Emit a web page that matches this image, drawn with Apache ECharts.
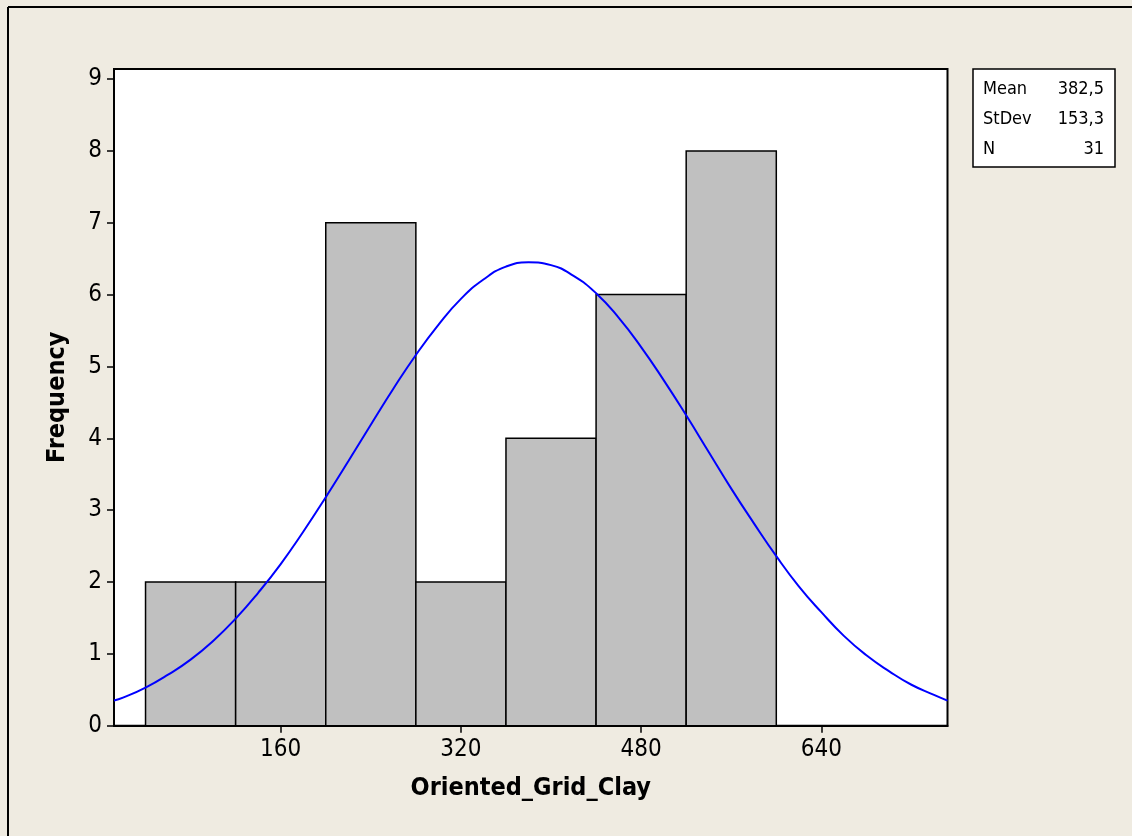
<!DOCTYPE html>
<html>
<head>
<meta charset="utf-8">
<script src="https://cdn.jsdelivr.net/npm/echarts@6/dist/echarts.min.js"></script>
<style>
html,body{margin:0;padding:0;background:#EFEBE1;}
#c{width:1132px;height:836px;}
</style>
</head>
<body>
<div id="c"></div>
<script>
// Histogram bins (lower edge, upper edge) and frequencies
const binStart = [40, 120, 200, 280, 360, 440, 520];
const binEnd   = [120, 200, 280, 360, 440, 520, 600];
const freq     = [2, 2, 7, 2, 4, 6, 8];

// Fitted curve
const curveX = [12, 20, 40, 60, 80, 100, 120, 140, 160, 180, 200, 220, 240, 260, 280, 300, 320, 340, 360, 380,
                400, 420, 440, 460, 480, 500, 520, 540, 560, 580, 600, 620, 640, 660, 680, 700, 720, 740, 752];
const curveY = [0.35, 0.39, 0.53, 0.71, 0.92, 1.18, 1.49, 1.85, 2.25, 2.70, 3.18, 3.68, 4.19, 4.69, 5.16, 5.58, 5.94, 6.21, 6.39, 6.45,
                6.41, 6.26, 6.02, 5.68, 5.27, 4.81, 4.32, 3.81, 3.30, 2.82, 2.36, 1.94, 1.58, 1.25, 0.98, 0.76, 0.57, 0.43, 0.35];

const xTicks = [160, 320, 480, 640];
const yTicks = [0, 1, 2, 3, 4, 5, 6, 7, 8, 9];

const statLabels = ['Mean', 'StDev', 'N'];
const statValues = ['382,5', '153,3', '31'];

const FONT = '"DejaVu Sans Condensed", "Liberation Sans Narrow", "DejaVu Sans", sans-serif';

const chart = echarts.init(document.getElementById('c'), null, {renderer: 'canvas'});

const barData = binStart.map((s, i) => [s, binEnd[i], freq[i]]);
const curveData = curveX.map((x, i) => [x, curveY[i]]);

const graphics = [
  {type: 'line', shape: {x1: 8, y1: 7, x2: 1140, y2: 7}, style: {stroke: '#000', lineWidth: 2}, z: 100},
  {type: 'line', shape: {x1: 8, y1: 7, x2: 8, y2: 840}, style: {stroke: '#000', lineWidth: 2}, z: 100},
  {type: 'rect', shape: {x: 973, y: 69, width: 142, height: 98}, style: {fill: '#fff', stroke: '#000', lineWidth: 1.5}, z: 100}
];
const rowY = [89, 119, 149];
statLabels.forEach((t, i) => {
  graphics.push({type: 'text', x: 983, y: rowY[i], style: {text: t, font: '18px ' + FONT, fill: '#000', textVerticalAlign: 'middle', textAlign: 'left'}, z: 101});
  graphics.push({type: 'text', x: 1104, y: rowY[i], style: {text: statValues[i], font: '18px ' + FONT, fill: '#000', textVerticalAlign: 'middle', textAlign: 'right'}, z: 101});
});

chart.setOption({
  backgroundColor: '#EFEBE1',
  animation: false,
  grid: {left: 114, top: 69, right: 184.5, bottom: 110.3, show: true, backgroundColor: '#fff', borderColor: '#000', borderWidth: 2},
  xAxis: {
    type: 'value', min: 12, max: 752,
    name: 'Oriented_Grid_Clay', nameLocation: 'middle', nameGap: 50,
    nameTextStyle: {fontFamily: FONT, fontSize: 25, fontWeight: 'bold', color: '#000'},
    axisLine: {show: true, onZero: false, lineStyle: {color: '#000', width: 2}},
    axisTick: {show: true, length: 7, lineStyle: {color: '#000', width: 1.5}, customValues: xTicks},
    axisLabel: {fontFamily: FONT, fontSize: 24, color: '#000', margin: 12, customValues: xTicks},
    splitLine: {show: false}
  },
  yAxis: {
    type: 'value', min: 0, max: 9.14,
    name: 'Frequency', nameLocation: 'middle', nameGap: 44, nameRotate: 90,
    nameTextStyle: {fontFamily: FONT, fontSize: 25, fontWeight: 'bold', color: '#000'},
    axisLine: {show: true, lineStyle: {color: '#000', width: 2}},
    axisTick: {show: true, length: 7, lineStyle: {color: '#000', width: 1.5}, customValues: yTicks},
    axisLabel: {fontFamily: FONT, fontSize: 24, color: '#000', margin: 12, customValues: yTicks},
    splitLine: {show: false}
  },
  series: [
    {
      type: 'custom',
      data: barData,
      encode: {x: [0, 1], y: 2},
      renderItem: function (params, api) {
        const p0 = api.coord([api.value(0), 0]);
        const p1 = api.coord([api.value(1), api.value(2)]);
        return {
          type: 'rect',
          shape: {x: p0[0], y: p1[1], width: p1[0] - p0[0], height: p0[1] - p1[1]},
          style: {fill: '#C0C0C0', stroke: '#000', lineWidth: 1.5}
        };
      },
      z: 2
    },
    {
      type: 'line',
      data: curveData,
      smooth: true,
      showSymbol: false,
      lineStyle: {color: '#0000FF', width: 2},
      z: 3
    }
  ],
  graphic: graphics
});
</script>
</body>
</html>
